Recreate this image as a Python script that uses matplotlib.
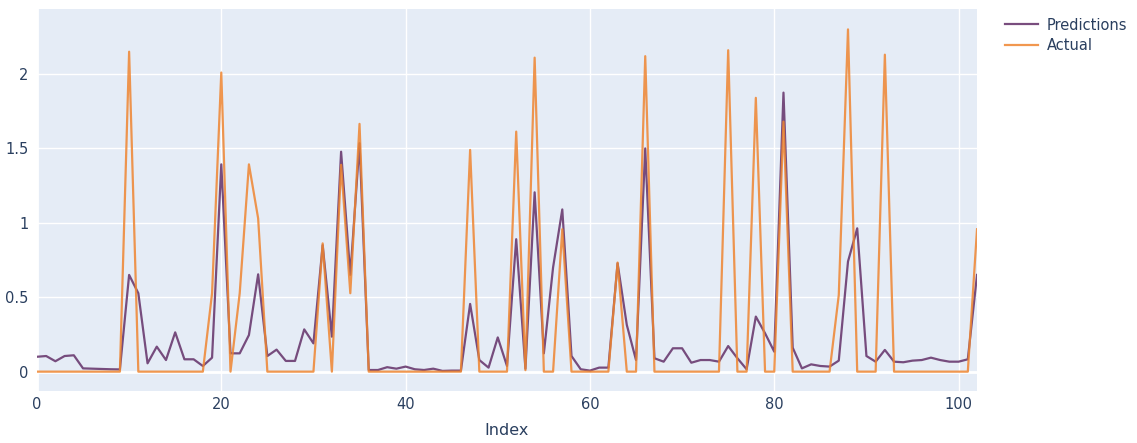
import matplotlib.pyplot as plt

index = list(range(103))

predictions = [
    0.10, 0.105, 0.07, 0.105, 0.11, 0.022, 0.02, 0.018, 0.016, 0.015,
    0.65, 0.527, 0.056, 0.168, 0.078, 0.264, 0.083, 0.083, 0.038, 0.094,
    1.393, 0.123, 0.123, 0.246, 0.654, 0.105, 0.148, 0.072, 0.072, 0.284,
    0.19, 0.85, 0.235, 1.478, 0.65, 1.535, 0.011, 0.011, 0.03, 0.02,
    0.034, 0.016, 0.011, 0.02, 0.005, 0.007, 0.007, 0.455, 0.078, 0.027,
    0.23, 0.038, 0.89, 0.02, 1.205, 0.123, 0.70, 1.09, 0.105, 0.016,
    0.007, 0.027, 0.027, 0.728, 0.314, 0.078, 1.50, 0.09, 0.067, 0.157,
    0.157, 0.06, 0.078, 0.078, 0.067, 0.172, 0.09, 0.016, 0.37, 0.258,
    0.134, 1.875, 0.161, 0.022, 0.049, 0.038, 0.034, 0.074, 0.74, 0.963,
    0.105, 0.067, 0.146, 0.067, 0.063, 0.074, 0.078, 0.094, 0.078, 0.067,
    0.067, 0.083, 0.65,
]

actual = [
    0, 0, 0, 0, 0, 0, 0, 0, 0, 0,
    2.15, 0, 0, 0, 0, 0, 0, 0, 0, 0.527,
    2.01, 0, 0.527, 1.393, 1.03, 0, 0, 0, 0, 0,
    0, 0.862, 0, 1.39, 0.527, 1.665, 0, 0, 0, 0,
    0, 0, 0, 0, 0, 0, 0, 1.49, 0, 0,
    0, 0, 1.613, 0.01, 2.11, 0, 0, 0.957, 0, 0,
    0, 0, 0, 0.733, 0, 0, 2.12, 0, 0, 0,
    0, 0, 0, 0, 0, 2.16, 0, 0, 1.84, 0,
    0, 1.68, 0, 0, 0, 0, 0, 0.515, 2.30, 0,
    0, 0, 2.13, 0, 0, 0, 0, 0, 0, 0,
    0, 0, 0.957,
]

yticks = [0, 0.5, 1, 1.5, 2]
ytick_labels = ['0', '0.5', '1', '1.5', '2']
xticks = [0, 20, 40, 60, 80, 100]

plt.rcParams['font.family'] = ['DejaVu Sans']
text_color = '#2a3f5f'

fig = plt.figure(figsize=(11.37, 4.43), dpi=100)
ax = fig.add_axes([0.0325, 0.1174, 0.8268, 0.8623])
ax.set_facecolor('#e5ecf6')

ax.plot(index, predictions, color='#6a3a70', lw=1.6, alpha=0.9, label='Predictions', zorder=3)
ax.plot(index, actual, color='#ef8530', lw=1.6, alpha=0.85, label='Actual', zorder=4)

ax.set_xlim(0, 102)
ax.set_ylim(-0.13, 2.437)
ax.set_xticks(xticks)
ax.set_yticks(yticks)
ax.set_yticklabels(ytick_labels)
ax.grid(True, color='white', lw=1.0, zorder=0)
ax.axhline(0, color='white', lw=2.0, zorder=1)
ax.axvline(0, color='white', lw=2.0, zorder=1)
ax.set_axisbelow(True)
for s in ax.spines.values():
    s.set_visible(False)
ax.tick_params(length=0, labelsize=10.5, colors=text_color)
ax.tick_params(axis='x', pad=4)
ax.tick_params(axis='y', pad=6)
ax.set_xlabel('Index', fontsize=11.5, color=text_color, labelpad=8)

fig.legend(loc='upper left', bbox_to_anchor=(0.872, 0.99), frameon=False,
           fontsize=10.5, labelcolor=text_color, handlelength=2.3,
           handletextpad=0.6, labelspacing=0.35)

fig.savefig('out.png', dpi=100)
